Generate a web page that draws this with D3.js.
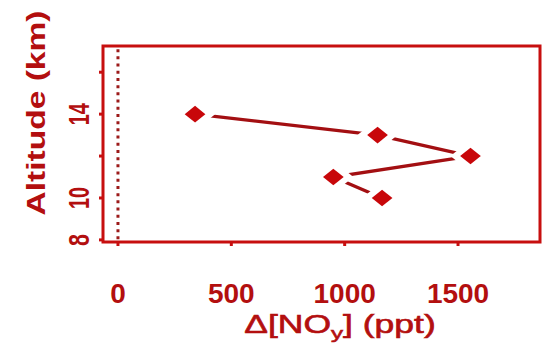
<!DOCTYPE html>
<html>
<head>
<meta charset="utf-8">
<script src="https://cdn.jsdelivr.net/npm/d3@7"></script>
<style>
  body { margin: 0; background: #fff; }
  text { font-family: "Liberation Sans", Arial, sans-serif; font-weight: bold; fill: #b30f0f; }
</style>
</head>
<body>
<script>
// values
var altitude = [14, 13, 12, 11, 10];
var deltaNOy = [340, 1145, 1555, 950, 1165];
var xTicks = [0, 500, 1000, 1500];
var yTicks = [8, 10, 12, 14, 16];
var yTickLabels = ["8", "10", "", "14", ""];

var width = 546, height = 344;
var red = "#c70f0f", dark = "#a30f12";

var svg = d3.select("body").append("svg").attr("width", width).attr("height", height);

var x = d3.scaleLinear().domain([-66, 1866]).range([103, 541]);
var y = d3.scaleLinear().domain([7.9, 17.25]).range([242, 46]);

// dotted zero line
svg.append("line")
    .attr("x1", x(0)).attr("x2", x(0))
    .attr("y1", y(17.1)).attr("y2", y(7.95))
    .attr("stroke", "#9c1a1a").attr("stroke-width", 3)
    .attr("stroke-dasharray", "3,4.2");

// profile line
var line = d3.line()
    .x(function (d, i) { return x(deltaNOy[i]); })
    .y(function (d) { return y(d); });

svg.append("path")
    .datum(altitude)
    .attr("d", line)
    .attr("fill", "none")
    .attr("stroke", dark)
    .attr("stroke-width", 3.3);

// diamond markers with a white halo that cuts the line
var diamond = d3.symbol().type(d3.symbolDiamond2).size(175);
svg.selectAll(".pt")
    .data(altitude)
    .enter()
    .append("path")
    .attr("class", "pt")
    .attr("d", diamond)
    .attr("transform", function (d, i) {
        return "translate(" + x(deltaNOy[i]) + "," + y(d) + ") scale(1.25,1)";
    })
    .attr("fill", "#c8070a")
    .attr("stroke", "#fff")
    .attr("stroke-width", 11)
    .attr("paint-order", "stroke");

// frame
svg.append("rect")
    .attr("x", 103).attr("y", 46)
    .attr("width", 437).attr("height", 196)
    .attr("fill", "none")
    .attr("stroke", red)
    .attr("stroke-width", 3);

// y axis ticks
svg.selectAll(".yt")
    .data(yTicks)
    .enter()
    .append("line")
    .attr("x1", 99).attr("x2", 103)
    .attr("y1", function (d) { return y(d); })
    .attr("y2", function (d) { return y(d); })
    .attr("stroke", red).attr("stroke-width", 3);

// y tick labels (rotated)
svg.selectAll(".yl")
    .data(yTicks)
    .enter()
    .append("text")
    .attr("transform", function (d) { return "translate(89," + y(d) + ") rotate(-90)"; })
    .attr("text-anchor", "middle")
    .attr("font-size", 30)
    .text(function (d, i) { return yTickLabels[i]; })
    .each(function (d, i) {
        if (yTickLabels[i].length > 1) {
            d3.select(this).attr("textLength", 22).attr("lengthAdjust", "spacingAndGlyphs");
        } else if (yTickLabels[i].length == 1) {
            d3.select(this).attr("textLength", 12).attr("lengthAdjust", "spacingAndGlyphs");
        }
    });

// x axis ticks
svg.selectAll(".xt")
    .data(xTicks)
    .enter()
    .append("line")
    .attr("x1", function (d) { return x(d); })
    .attr("x2", function (d) { return x(d); })
    .attr("y1", 242).attr("y2", 246)
    .attr("stroke", red).attr("stroke-width", 3);

svg.selectAll(".xl")
    .data(xTicks)
    .enter()
    .append("text")
    .attr("x", function (d) { return x(d); })
    .attr("y", 303)
    .attr("text-anchor", "middle")
    .attr("font-size", 28)
    .text(function (d) { return d; });

// axis titles
svg.append("text")
    .attr("transform", "translate(45,113) rotate(-90)")
    .attr("text-anchor", "middle")
    .attr("font-size", 26)
    .attr("textLength", 205)
    .attr("lengthAdjust", "spacingAndGlyphs")
    .text("Altitude (km)");

var xt = svg.append("text")
    .attr("transform", "translate(340,333) scale(1.42,1)")
    .attr("text-anchor", "middle")
    .attr("font-size", 25)
    .attr("stroke", "#b30f0f")
    .attr("stroke-width", 0.6)
    .style("font-weight", "normal");
xt.append("tspan").text("\u0394[NO");
xt.append("tspan").attr("font-size", 17).attr("dy", 6).text("y");
xt.append("tspan").attr("dy", -6).text("] (ppt)");
</script>
</body>
</html>
